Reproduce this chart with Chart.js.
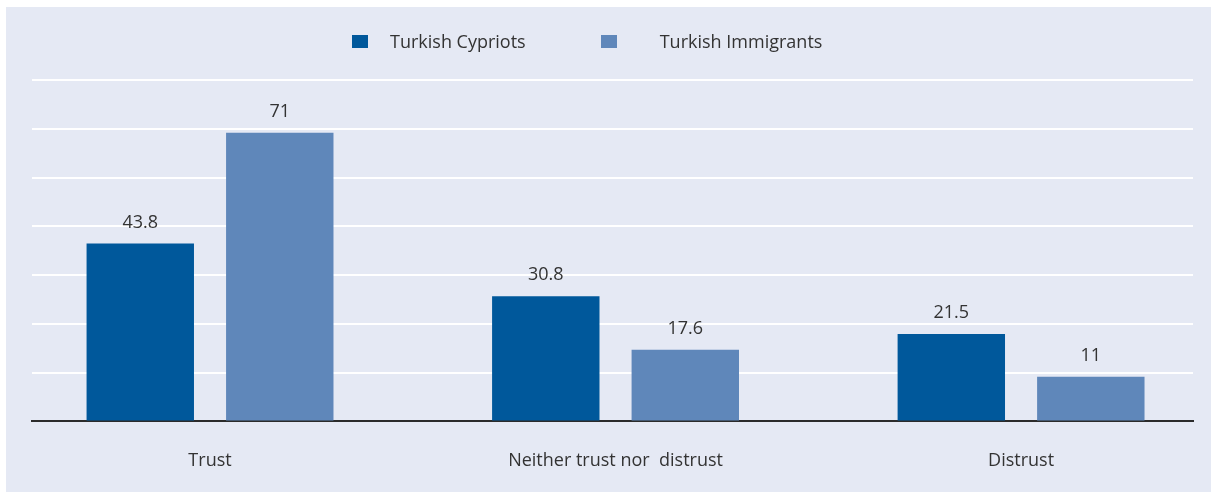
<!DOCTYPE html>
<html>
<head>
<meta charset="utf-8">
<script src="https://cdn.jsdelivr.net/npm/chart.js@4.4.0/dist/chart.umd.min.js"></script>
<style>
  html, body { margin: 0; padding: 0; background: #fff; }
  body { width: 1211px; height: 492px; position: relative; overflow: hidden; font-family: "Open Sans", sans-serif; color: #333; }
  #panel { position: absolute; left: 6px; top: 7px; width: 1205px; height: 485px; background: #e5e9f4; }
  #chart-wrap { position: absolute; left: 0; top: 0; width: 1205px; height: 494px; }
  #legend { position: absolute; left: 346px; top: 22px; display: flex; align-items: center; font-size: 18px; }
  #legend .item { display: flex; align-items: center; margin-right: 75px; }
  #legend .box { width: 16px; height: 13px; margin-right: 22px; }
  #legend .item + .item .box { margin-right: 43px; }
</style>
</head>
<body>
<div id="panel">
  <div id="chart-wrap"><canvas id="trust-chart"></canvas></div>
  <div id="legend"></div>
</div>
<script>
const categories = ['Trust', 'Neither trust nor  distrust', 'Distrust']
const cypriots = [43.8, 30.8, 21.5]
const immigrants = [71, 17.6, 11]

const seriesNames = ['Turkish Cypriots', 'Turkish Immigrants']
const seriesColors = ['#00589b', '#5f87ba']

const toPoints = (values) => values.map((v, i) => ({ x: i, y: v }))

// value printed above every bar
const barValues = {
  id: 'barValues',
  afterDatasetsDraw(chart) {
    const ctx = chart.ctx
    ctx.save()
    ctx.font = '18px "Open Sans", sans-serif'
    ctx.fillStyle = '#333'
    ctx.textAlign = 'center'
    ctx.textBaseline = 'bottom'
    chart.data.datasets.forEach((ds, i) => {
      chart.getDatasetMeta(i).data.forEach((bar, j) => {
        ctx.fillText(String(ds.data[j].y), bar.x, bar.y - 12)
      })
    })
    ctx.restore()
  }
}

const chart = new Chart(document.getElementById('trust-chart'), {
  type: 'bar',
  data: {
    datasets: [
      {
        label: seriesNames[0],
        data: toPoints(cypriots),
        backgroundColor: seriesColors[0],
        categoryPercentage: 0.688,
        barPercentage: 0.77
      },
      {
        label: seriesNames[1],
        data: toPoints(immigrants),
        backgroundColor: seriesColors[1],
        categoryPercentage: 0.688,
        barPercentage: 0.77
      }
    ]
  },
  options: {
    responsive: true,
    maintainAspectRatio: false,
    animation: false,
    layout: { padding: { left: 26, right: 18, top: 73, bottom: 0 } },
    plugins: {
      legend: { display: false },
      tooltip: { enabled: false }
    },
    scales: {
      x: {
        type: 'linear',
        offset: false,
        min: -0.439,
        max: 2.424,
        afterBuildTicks: (scale) => { scale.ticks = categories.map((c, i) => ({ value: i })) },
        grid: { display: false, drawTicks: false },
        border: { display: true, color: '#2b2b2b', width: 2 },
        ticks: {
          padding: 29,
          maxRotation: 0,
          autoSkip: false,
          color: '#333',
          font: { family: '"Open Sans", sans-serif', size: 18 },
          callback: (value) => categories[value]
        }
      },
      y: {
        min: 0,
        max: 84,
        ticks: { display: false, stepSize: 12 },
        grid: { color: '#ffffff', lineWidth: 2, drawTicks: false },
        border: { display: false }
      }
    }
  },
  plugins: [barValues]
})

// html legend built from the datasets
const legendEl = document.getElementById('legend')
chart.data.datasets.forEach((ds) => {
  const item = document.createElement('div')
  item.className = 'item'
  const box = document.createElement('span')
  box.className = 'box'
  box.style.background = ds.backgroundColor
  const text = document.createElement('span')
  text.textContent = ds.label
  item.appendChild(box)
  item.appendChild(text)
  legendEl.appendChild(item)
})
</script>
</body>
</html>
